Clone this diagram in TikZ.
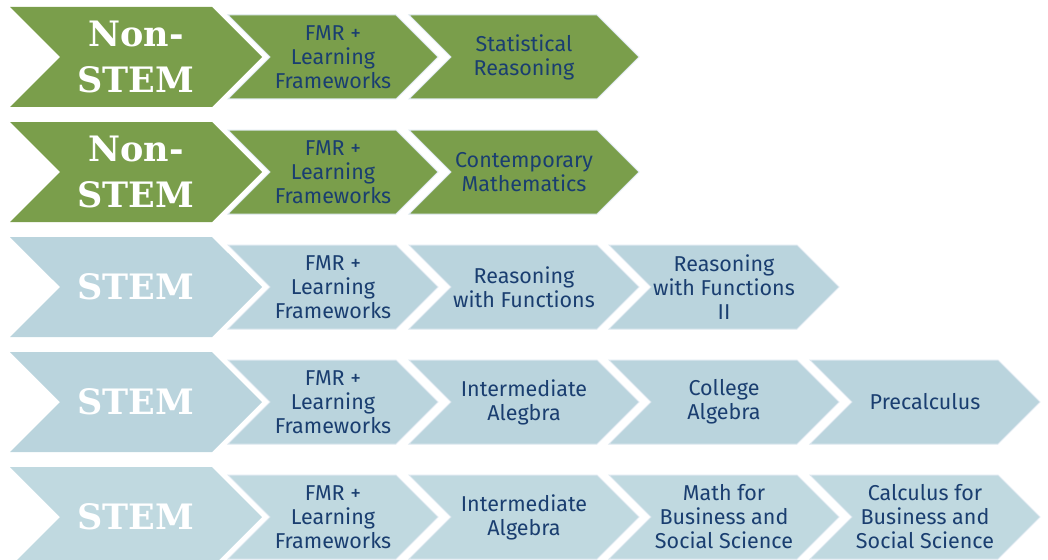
\documentclass[tikz,border=0pt]{standalone}
\usepackage{fontspec}
\setmainfont{Fira Sans}
\newfontfamily\slabfont{DejaVu Serif}
\usetikzlibrary{shapes.symbols}
\usetikzlibrary{positioning}
\definecolor{leaf}{RGB}{122,158,75}
\definecolor{sky}{RGB}{186,212,221}
\definecolor{skylight}{RGB}{192,217,224}
\definecolor{ink}{RGB}{26,62,112}
\definecolor{rim}{RGB}{222,232,240}

\begin{document}
\begin{tikzpicture}[x=1pt, y=-1pt,
    chevron/.style={signal, signal from=west, signal to=east, signal pointer angle=90, inner sep=0, align=center},
    track/.style={chevron, minimum width=252pt, minimum height=100pt, text=white, font=\slabfont\bfseries\fontsize{35}{46}\selectfont},
    course/.style={chevron, minimum width=230pt, minimum height=84pt, text=ink, draw=rim, line width=1pt, font=\fontsize{21.5}{24}\selectfont},
    first/.style={course, minimum width=210pt},
    nonstem/.style={fill=leaf},
    stem/.style={fill=sky},
    stemlight/.style={fill=skylight}
  ]
  \useasboundingbox (0,0) rectangle (1048,559);
  \clip (0,0) rectangle (1048,559);

  % statistics path
  \node[track, nonstem] (t1) at (136,57) {Non-\\STEM};
  \node[first, nonstem] (a1) at (333,57) {FMR +\\Learning\\Frameworks};
  \node[course, nonstem] (b1) at (524,57) {Statistical\\Reasoning};

  % quantitative path
  \node[track, nonstem] (t2) at (136,172) {Non-\\STEM};
  \node[first, nonstem] (a2) at (333,172) {FMR +\\Learning\\Frameworks};
  \node[course, nonstem] (b2) at (524,172) {Contemporary\\Mathematics};

  % functions path
  \node[track, stem] (t3) at (136,287) {STEM};
  \node[first, stem] (a3) at (333,287) {FMR +\\Learning\\Frameworks};
  \node[course, stem] (b3) at (524,287) {Reasoning\\with Functions};
  \node[course, stem] (c3) at (724,287) {Reasoning\\with Functions\\II};

  % algebra path
  \node[track, stem] (t4) at (136,402) {STEM};
  \node[first, stem] (a4) at (333,402) {FMR +\\Learning\\Frameworks};
  \node[course, stem] (b4) at (524,402) {Intermediate\\Alegbra};
  \node[course, stem] (c4) at (724,402) {College\\Algebra};
  \node[course, stem] (d4) at (925,402) {Precalculus};

  % business path
  \node[track, stemlight] (t5) at (136,517) {STEM};
  \node[first, stemlight] (a5) at (333,517) {FMR +\\Learning\\Frameworks};
  \node[course, stemlight] (b5) at (524,517) {Intermediate\\Algebra};
  \node[course, stemlight] (c5) at (724,517) {Math for\\Business and\\Social Science};
  \node[course, stemlight] (d5) at (925,517) {Calculus for\\Business and\\Social Science};
\end{tikzpicture}
\end{document}
